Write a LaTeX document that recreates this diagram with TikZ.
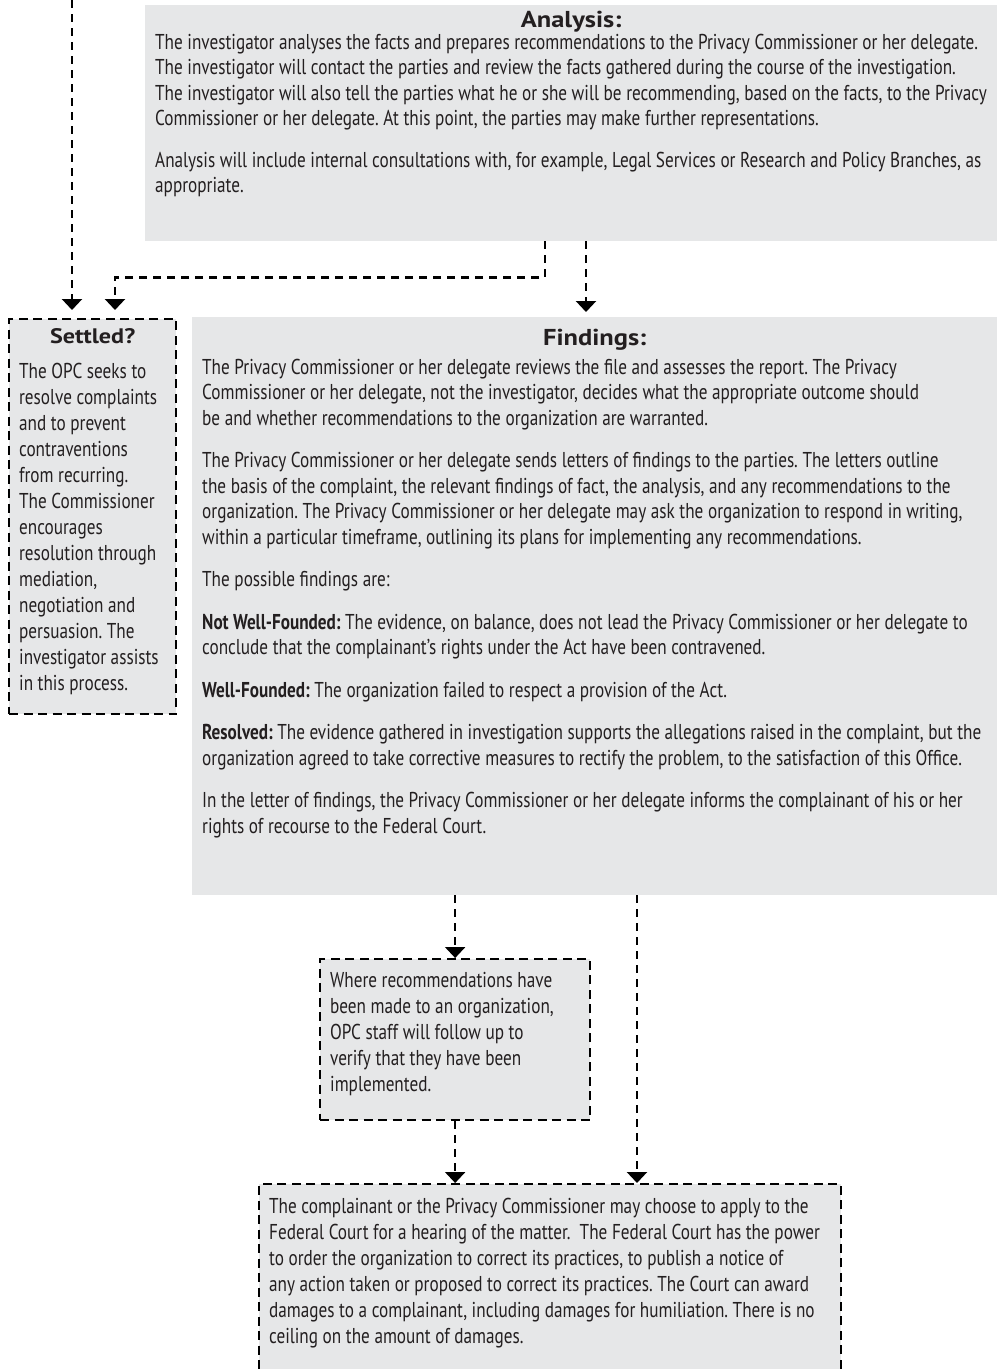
\documentclass[tikz,border=0pt]{standalone}
\usepackage{fontspec}
\setmainfont{PT Sans}[FakeStretch=0.80]
\newfontfamily\headfont{PT Sans}[FakeStretch=1.15]
\usepackage{xcolor}
\usetikzlibrary{arrows.meta,positioning}
\definecolor{boxgray}{HTML}{E6E7E8}
\definecolor{ink}{HTML}{231F20}
\frenchspacing
\newcommand{\boxtext}[3]{\parbox[t][#1][t]{#2}{\raggedright #3}}
\newcommand{\head}[2][23]{\makebox[\linewidth]{\headfont\bfseries\fontsize{#1}{#1}\selectfont #2}}

\begin{document}
\begin{tikzpicture}[
  x=1pt, y=-1pt,
  box/.style={anchor=north west, fill=boxgray, text=ink, inner xsep=10pt, inner ysep=6pt,
              font=\fontsize{21.5}{25.5}\selectfont},
  dbox/.style={box, draw=black, line width=2.3pt, dash pattern=on 9pt off 5.5pt,
               font=\fontsize{21.5}{26}\selectfont},
  arr/.style={line width=2.4pt, dash pattern=on 8pt off 6pt, -{Triangle[width=20pt,length=11pt]}}
]
\useasboundingbox (0,0) rectangle (997,1369);
\node[box] (analysis) at (145,5) {\boxtext{224pt}{832pt}{\head{Analysis:}\\[-4pt]
  The investigator analyses the facts and prepares recommendations to the Privacy Commissioner or her delegate.\\
  The investigator will contact the parties and review the facts gathered during the course of the investigation.\\
  The investigator will also tell the parties what he or she will be recommending, based on the facts, to the Privacy\\
  Commissioner or her delegate. At this point, the parties may make further representations.\\[16pt]
  Analysis will include internal consultations with, for example, Legal Services or Research and Policy Branches, as\\
  appropriate.}};
\node[dbox] (settled) at (8,318) {\boxtext{383pt}{147pt}{\vspace*{3pt}\head[21]{Settled?}\\[9pt]
  The OPC seeks to\\ resolve complaints\\ and to prevent\\ contraventions\\ from recurring.\\
  The Commissioner\\ encourages\\ resolution through\\ mediation,\\ negotiation and\\
  persuasion. The\\ investigator assists\\ in this process.}};
\node[box] (findings) at (192,317) {\boxtext{566pt}{785pt}{\vspace*{6pt}\head{Findings:}\\[3pt]
  The Privacy Commissioner or her delegate reviews the file and assesses the report. The Privacy\\
  Commissioner or her delegate, not the investigator, decides what the appropriate outcome should\\
  be and whether recommendations to the organization are warranted.\\[17pt]
  The Privacy Commissioner or her delegate sends letters of findings to the parties. The letters outline\\
  the basis of the complaint, the relevant findings of fact, the analysis, and any recommendations to the\\
  organization. The Privacy Commissioner or her delegate may ask the organization to respond in writing,\\
  within a particular timeframe, outlining its plans for implementing any recommendations.\\[17pt]
  The possible findings are:\\[17pt]
  \textbf{Not Well-Founded:} The evidence, on balance, does not lead the Privacy Commissioner or her delegate to\\
  conclude that the complainant’s rights under the Act have been contravened.\\[17pt]
  \textbf{Well-Founded:} The organization failed to respect a provision of the Act.\\[17pt]
  \textbf{Resolved:} The evidence gathered in investigation supports the allegations raised in the complaint, but the\\
  organization agreed to take corrective measures to rectify the problem, to the satisfaction of this Office.\\[17pt]
  In the letter of findings, the Privacy Commissioner or her delegate informs the complainant of his or her\\
  rights of recourse to the Federal Court.}};
\node[dbox] (followup) at (319,958) {\boxtext{149pt}{250pt}{\vspace*{7pt}%
  Where recommendations have\\ been made to an organization,\\ OPC staff will follow up to\\
  verify that they have been\\ implemented.}};
\node[dbox] (court) at (258,1183) {\boxtext{185pt}{562pt}{\vspace*{8pt}%
  The complainant or the Privacy Commissioner may choose to apply to the\\
  Federal Court for a hearing of the matter.\ \ The Federal Court has the power\\
  to order the organization to correct its practices, to publish a notice of\\
  any action taken or proposed to correct its practices. The Court can award\\
  damages to a complainant, including damages for humiliation. There is no\\
  ceiling on the amount of damages.}};
\coordinate (start) at (72,0);
\coordinate (drop) at ([xshift=445pt]findings.south west);
\draw[arr, shorten >=8pt] (start) -- (start |- settled.north);
\draw[arr, shorten >=8pt] ([xshift=400pt]analysis.south west) -- ++(0,36) -| ([xshift=107pt]settled.north west);
\draw[arr, shorten >=5pt] ([xshift=441pt]analysis.south west) -- ([xshift=394pt]findings.north west);
\draw[arr] (followup.north |- findings.south) -- (followup.north);
\draw[arr] (followup.south) -- (followup.south |- court.north);
\draw[arr] (drop) -- (drop |- court.north);
\end{tikzpicture}
\end{document}
